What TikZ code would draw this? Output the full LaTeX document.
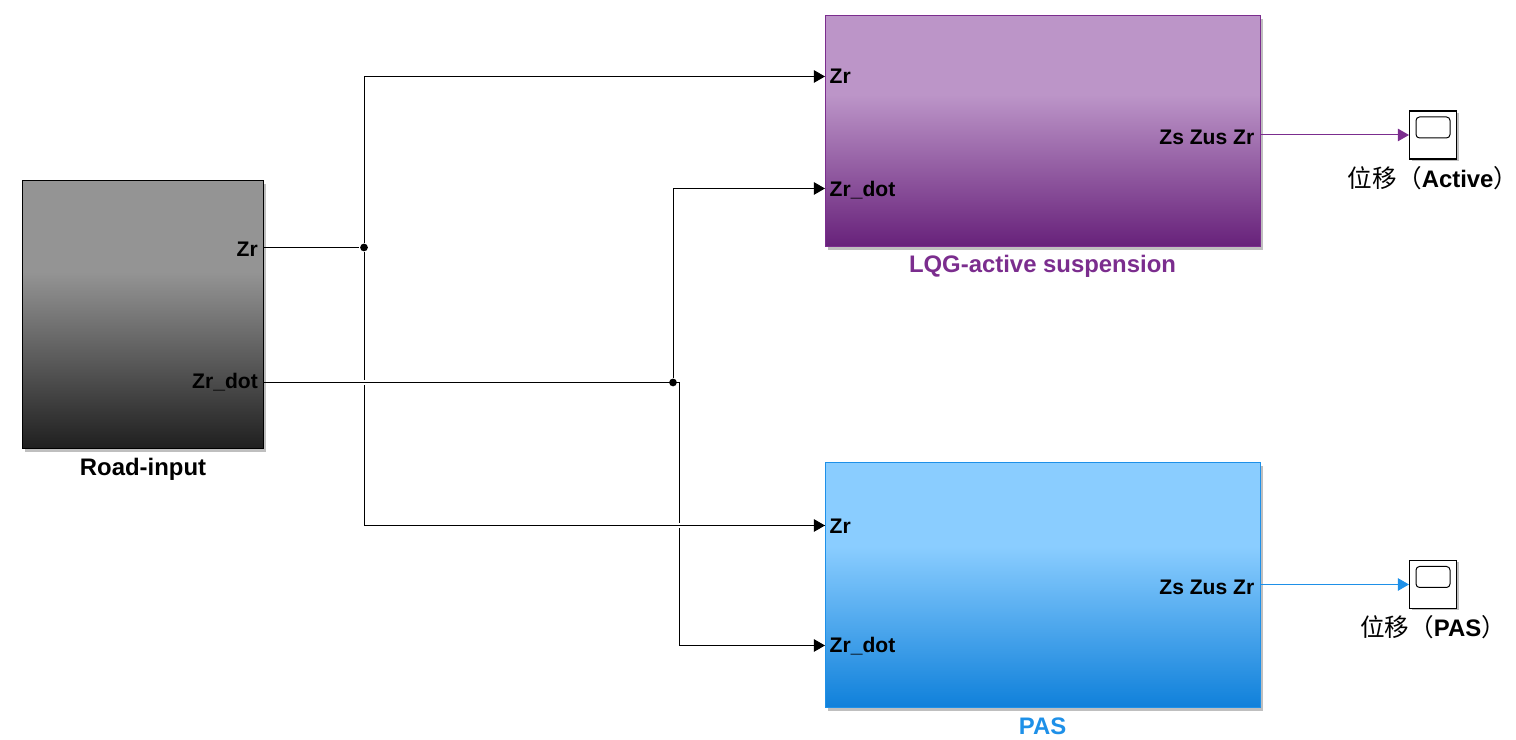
\documentclass[tikz,border=0pt]{standalone}
\usepackage{fontspec}
\setmainfont{Liberation Sans}
\newfontfamily\cjk{Noto Sans CJK SC}
\usepackage{tikz}
\usetikzlibrary{positioning, arrows.meta, shadows}
\usepackage{xcolor}
\definecolor{RoadTop}{HTML}{949494}
\definecolor{RoadBot}{HTML}{1F1F1F}
\definecolor{ActiveTop}{HTML}{BC95C8}
\definecolor{ActiveBot}{HTML}{67217A}
\definecolor{ActiveLine}{HTML}{7B2D8E}
\definecolor{PasTop}{HTML}{8ACDFF}
\definecolor{PasBot}{HTML}{0F80DA}
\definecolor{PasLine}{HTML}{1E90E8}
\pgfdeclareverticalshading{roadgrad}{100bp}{color(0bp)=(RoadBot); color(25bp)=(RoadBot); color(58bp)=(RoadTop); color(100bp)=(RoadTop)}
\pgfdeclareverticalshading{activegrad}{100bp}{color(0bp)=(ActiveBot); color(25bp)=(ActiveBot); color(58bp)=(ActiveTop); color(100bp)=(ActiveTop)}
\pgfdeclareverticalshading{pasgrad}{100bp}{color(0bp)=(PasBot); color(25bp)=(PasBot); color(58bp)=(PasTop); color(100bp)=(PasTop)}
\tikzset{
    block/.style={draw, line width=0.28pt, inner sep=0pt, drop shadow={shadow xshift=0.03cm, shadow yshift=-0.03cm, opacity=0.25, fill=black}},
    port/.style={font=\fontsize{6pt}{7pt}\selectfont\bfseries, inner sep=0pt, text=black},
    title/.style={font=\fontsize{6.8pt}{7pt}\selectfont\bfseries, inner sep=0pt},
    sig/.style={line width=0.28pt, -{Triangle[length=3.2pt, width=3.6pt]}},
    wire/.style={line width=0.28pt},
    hop/.style={draw=white, line width=1.3pt},
    junction/.style={circle, fill=black, inner sep=0pt, minimum size=2.2pt},
    scopebox/.style={draw, fill=white, line width=0.3pt, inner sep=0pt, minimum width=0.47cm, minimum height=0.48cm, drop shadow={shadow xshift=0.02cm, shadow yshift=-0.02cm, opacity=0.25, fill=black}},
    scopescreen/.style={draw, rounded corners=1pt, line width=0.28pt, inner sep=0pt, minimum width=0.34cm, minimum height=0.21cm}
}

\begin{document}
\begin{tikzpicture}

\useasboundingbox (0,0) rectangle (15.16,7.40);

% === Blocks ===
\node[block, draw=black, shading=roadgrad, minimum width=2.41cm, minimum height=2.68cm] (road) at (1.425, 4.25) {};
\node[block, draw=ActiveLine, shading=activegrad, minimum width=4.35cm, minimum height=2.31cm] (active) at (10.425, 6.085) {};
\node[block, draw=PasLine, shading=pasgrad, minimum width=4.35cm, minimum height=2.45cm] (pas) at (10.425, 1.545) {};

% Block names
\node[title] (roadName) at (1.43, 2.71) {Road-input};
\node[title, ActiveLine] (activeName) at (10.425, 4.74) {LQG-active suspension};
\node[title, PasLine] (pasName) at (10.425, 0.14) {PAS};

% Port points on the block edges
\coordinate (roadZr) at (2.63, 4.925);
\coordinate (roadDot) at (2.63, 3.575);
\coordinate (activeZr) at (8.25, 6.635);
\coordinate (activeDot) at (8.25, 5.515);
\coordinate (activeOut) at (12.60, 6.05);
\coordinate (pasZr) at (8.25, 2.145);
\coordinate (pasDot) at (8.25, 0.945);
\coordinate (pasOut) at (12.60, 1.555);

% Port labels
\node[port, anchor=east] (roadZrText) at (2.585, 4.91) {Zr};
\node[port, anchor=east] (roadDotText) at (2.585, 3.58) {Zr\_dot};
\node[port, anchor=west] (activeZrText) at (8.29, 6.64) {Zr};
\node[port, anchor=west] (activeDotText) at (8.29, 5.50) {Zr\_dot};
\node[port, anchor=east] (activeOutText) at (12.55, 6.03) {Zs Zus Zr};
\node[port, anchor=west] (pasZrText) at (8.29, 2.14) {Zr};
\node[port, anchor=west] (pasDotText) at (8.29, 0.94) {Zr\_dot};
\node[port, anchor=east] (pasOutText) at (12.55, 1.53) {Zs Zus Zr};

% === Scopes ===
\node[scopebox] (scopeActive) at (14.33, 6.05) {};
\node[scopescreen] (screenActive) at (14.33, 6.125) {};
\node[scopebox] (scopePas) at (14.33, 1.555) {};
\node[scopescreen] (screenPas) at (14.33, 1.63) {};
\node[title] (scopeActiveName) at (14.33, 5.62) {{\cjk\mdseries\fontsize{7pt}{8pt}\selectfont 位移（}Active{\cjk\mdseries\fontsize{7pt}{8pt}\selectfont ）}};
\node[title] (scopePasName) at (14.33, 1.13) {{\cjk\mdseries\fontsize{7pt}{8pt}\selectfont 位移（}PAS{\cjk\mdseries\fontsize{7pt}{8pt}\selectfont ）}};

% === Connectors ===
\node[junction] (jZr) at (3.64, 4.925) {};
\node[junction] (jDot) at (6.73, 3.575) {};
\coordinate (bendDot) at (6.79, 3.575);

\draw[sig] (jZr) |- (activeZr);
\draw[sig] (jDot) |- (activeDot);
\draw[wire] (roadZr) -- (jZr);
\draw[sig] (bendDot) |- (pasDot);
\draw[sig] (jZr) |- (pasZr);

% small gaps where the verticals pass under
\draw[hop] ([xshift=-0.8pt]jZr |- roadDot) -- ([xshift=0.8pt]jZr |- roadDot);
\draw[hop] ([xshift=-0.8pt]bendDot |- pasZr) -- ([xshift=0.8pt]bendDot |- pasZr);
\draw[wire] (roadDot) -- (bendDot);
\draw[wire] (jZr |- pasZr) -- (pasZr);

\draw[sig, ActiveLine] (activeOut) -- (scopeActive);
\draw[sig, PasLine] (pasOut) -- (scopePas);

\end{tikzpicture}
\end{document}
